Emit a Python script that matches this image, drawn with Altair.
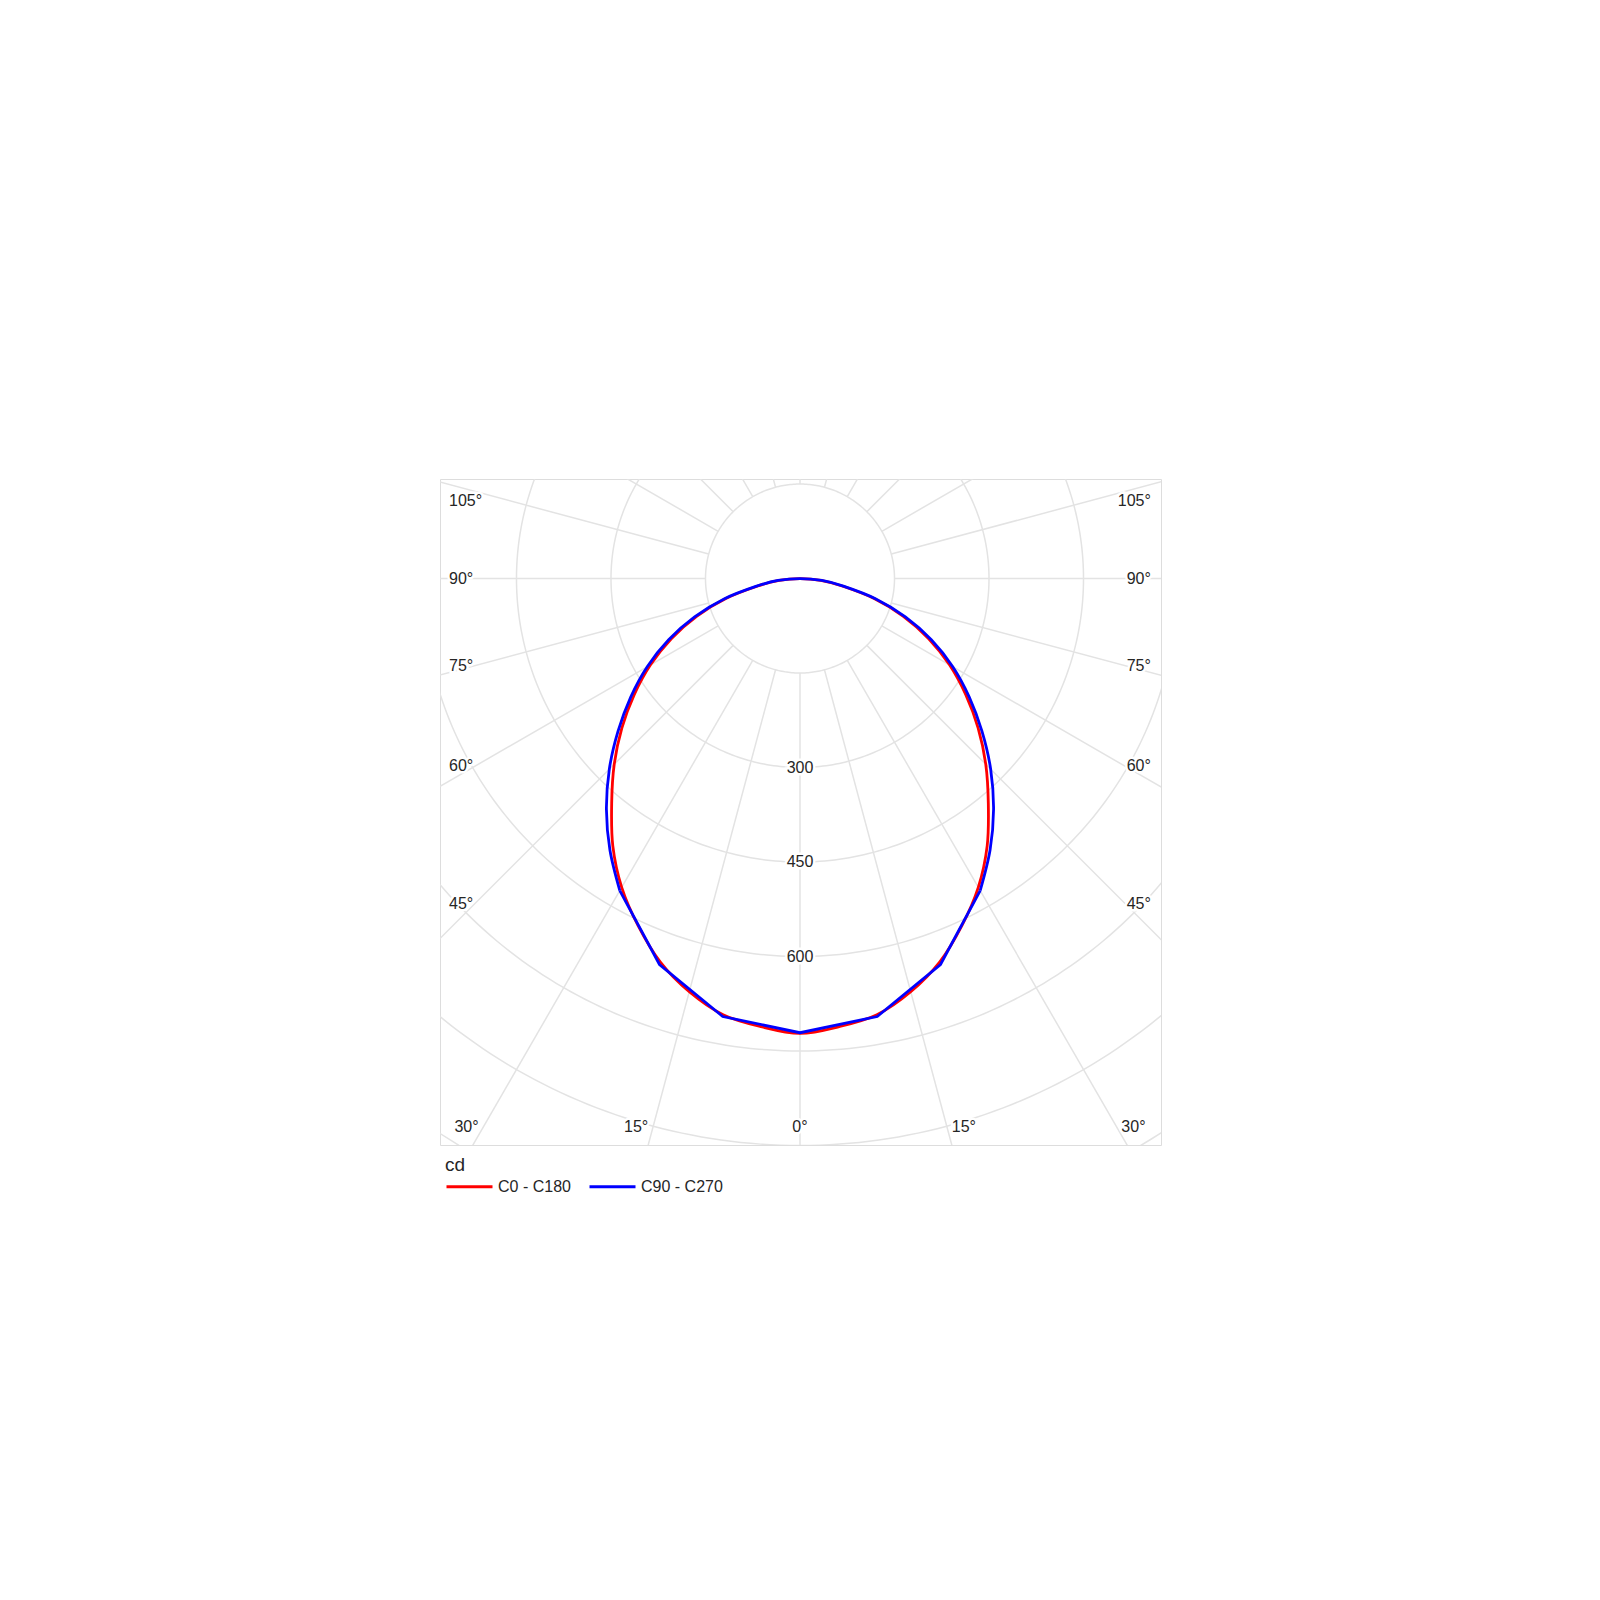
import altair as alt
import numpy as np
import pandas as pd

# ---- data (gamma angle in degrees, intensity in cd) ----
c0_c180_angles = [0, 5, 10, 15, 20, 25, 30, 35, 40, 45, 50, 55, 60, 65, 70, 75, 80, 85, 90]
c0_c180 = [722, 714, 703, 679, 648, 608, 566, 518, 465, 417, 369, 321, 274, 225, 174, 121, 68, 33, 0]
c90_c270_angles = [0, 10, 20, 30, 35, 40, 45, 50, 55, 60, 65, 70, 75, 80, 85, 90]
c90_c270 = [721, 706, 652, 572, 526, 478, 428, 377, 328, 280, 230, 178, 124, 70, 35, 0]
series_names = ["C0 - C180", "C90 - C270"]
series_colors = ["#ff0000", "#0000ff"]

ring_values = [150, 300, 450, 600, 750, 900, 1050]
ring_labels = [300, 450, 600]
spoke_angles = list(range(0, 360, 15))
side_label_angles = [45, 60, 75, 90, 105]
bottom_label_angles = [-30, -15, 0, 15, 30]

# ---- build tables ----
def pt(name, a, v, i, part):
    t = np.radians(a)
    return {"series": name, "idx": i, "part": part, "x": v * np.sin(t), "y": -v * np.cos(t)}

# red: closed smooth loop through the centre (-85 .. 90)
red_rows = []
red_full = [-a for a in c0_c180_angles[::-1]][1:] + c0_c180_angles[1:]
red_vals = c0_c180[::-1][1:] + c0_c180[1:]
for i, (a, v) in enumerate(zip(red_full, red_vals)):
    red_rows.append(pt(series_names[0], a, v, i, "all"))
red_df = pd.DataFrame(red_rows)

# blue: lower part (|gamma| <= 30) as straight segments, upper part smooth through the centre
bmap = dict(zip(c90_c270_angles, c90_c270))
low_angles = [a for a in c90_c270_angles if a <= 30]
blue_low = []
for i, a in enumerate([-a for a in low_angles[::-1]] + low_angles[1:]):
    blue_low.append(pt(series_names[1], a, bmap[abs(a)], i, "low"))
high_angles = [a for a in c90_c270_angles if a >= 30]
blue_high = []
seq = high_angles + [-a for a in high_angles[::-1]][1:]
for i, a in enumerate(seq):
    blue_high.append(pt(series_names[1], a, bmap[abs(a)], i, "high"))
blue_low_df = pd.DataFrame(blue_low)
blue_high_df = pd.DataFrame(blue_high)

ring_rows = []
tt = np.linspace(0, 2 * np.pi, 361)
for r in ring_values:
    for i, t in enumerate(tt):
        ring_rows.append({"ring": r, "idx": i, "x": r * np.cos(t), "y": r * np.sin(t)})
ring_df = pd.DataFrame(ring_rows)

spoke_rows = []
for a in spoke_angles:
    t = np.radians(a)
    spoke_rows.append({"x": ring_values[0] * np.sin(t), "y": -ring_values[0] * np.cos(t),
                       "x2": 1400 * np.sin(t), "y2": -1400 * np.cos(t)})
spoke_df = pd.DataFrame(spoke_rows)

rlab_df = pd.DataFrame({"x": [0] * len(ring_labels), "y": [-v for v in ring_labels],
                        "t": [str(v) for v in ring_labels]})

side_rows = []
for a in side_label_angles:
    t = np.radians(a)
    yy = min(-516 * np.cos(t) / np.sin(t), 123)
    side_rows.append({"x": -557, "y": yy, "t": f"{a}°", "side": "L"})
    side_rows.append({"x": 557, "y": yy, "t": f"{a}°", "side": "R"})
side_df = pd.DataFrame(side_rows)

bot_rows = []
for a in bottom_label_angles:
    off = 0 if a == 0 else (870 * np.tan(np.radians(abs(a))) + 27) * np.sign(a)
    bot_rows.append({"x": off, "y": -870, "t": f"{abs(a)}°"})
bot_df = pd.DataFrame(bot_rows)

# ---- scales ----
xs = alt.Scale(domain=[-571.4, 573], nice=False, zero=False)
ys = alt.Scale(domain=[-899.2, 158], nice=False, zero=False)
X = lambda f="x": alt.X(f"{f}:Q", scale=xs, axis=None)
Y = lambda f="y": alt.Y(f"{f}:Q", scale=ys, axis=None)

grid_col = "#e3e3e3"
txt_col = "#262626"
font = "Liberation Sans"

rings = alt.Chart(ring_df).mark_line(clip=True, color=grid_col, strokeWidth=1.5).encode(
    x=X(), y=Y(), detail="ring:N", order="idx:Q")

spokes = alt.Chart(spoke_df).mark_rule(clip=True, color=grid_col, strokeWidth=1.5).encode(
    x=X(), y=Y(), x2="x2:Q", y2="y2:Q")

color = alt.Color("series:N",
                  scale=alt.Scale(domain=series_names, range=series_colors),
                  legend=alt.Legend(title="cd", orient="none", legendX=5, legendY=677,
                                    direction="horizontal", symbolType="stroke",
                                    symbolStrokeWidth=3, symbolSize=2116,
                                    labelFontSize=16, labelFont=font, labelColor=txt_col,
                                    titleFontSize=19, titleFont=font, titleFontWeight="normal",
                                    titleColor=txt_col, columnPadding=12, titlePadding=-13,
                                    labelOffset=4, padding=0))

red = alt.Chart(red_df).mark_line(
    clip=True, strokeWidth=2.8, interpolate="cardinal-closed", tension=0).encode(
    x=X(), y=Y(), color=color, order="idx:Q")
blue_lo = alt.Chart(blue_low_df).mark_line(clip=True, strokeWidth=2.8).encode(
    x=X(), y=Y(), color=color, order="idx:Q")
blue_hi = alt.Chart(blue_high_df).mark_line(
    clip=True, strokeWidth=2.8, interpolate="cardinal", tension=0).encode(
    x=X(), y=Y(), color=color, order="idx:Q")

def textlayer(df, align, halo):
    kw = dict(align=align, baseline="middle", fontSize=16, font=font)
    if halo:
        kw.update(stroke="white", strokeWidth=5, color="white")
    else:
        kw.update(color=txt_col)
    return alt.Chart(df).mark_text(**kw).encode(x=X(), y=Y(), text="t:N")

left_df = side_df[side_df.side == "L"]
right_df = side_df[side_df.side == "R"]

layers = [rings, spokes, red, blue_lo, blue_hi]
for halo in (True, False):
    layers += [textlayer(rlab_df, "center", halo), textlayer(left_df, "left", halo),
               textlayer(right_df, "right", halo), textlayer(bot_df, "center", halo)]

chart = alt.layer(*layers).properties(
    width=721, height=666,
    padding={"left": 432, "top": 471, "right": 5, "bottom": 5},
).configure_view(stroke="#a9a9a9", strokeWidth=1.5).configure(font=font)

chart.save("out.html", embed_options={"renderer": "svg", "actions": False})
